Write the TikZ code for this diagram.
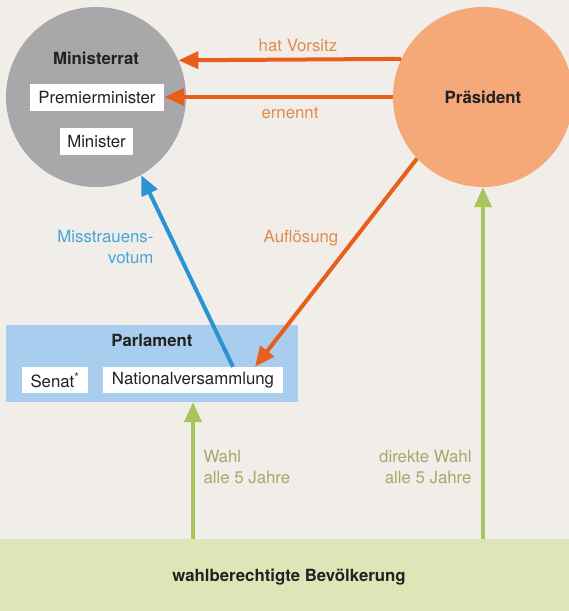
\documentclass[tikz,border=0pt]{standalone}
\usepackage{fontspec}
\setmainfont{TeX Gyre Heros}
\usepackage{tikz}
\usetikzlibrary{arrows.meta,positioning,calc}
\usepackage{xcolor}
\definecolor{paper}{RGB}{241,238,233}
\definecolor{ratgrey}{RGB}{168,167,169}
\definecolor{praespeach}{RGB}{245,168,120}
\definecolor{hotorange}{RGB}{232,95,28}
\definecolor{softorange}{RGB}{227,138,79}
\definecolor{vetoblue}{RGB}{42,147,209}
\definecolor{labelblue}{RGB}{69,165,218}
\definecolor{parlblue}{RGB}{169,205,239}
\definecolor{votegreen}{RGB}{169,196,90}
\definecolor{labelolive}{RGB}{165,168,106}
\definecolor{folkgreen}{RGB}{221,230,182}
\definecolor{inkdark}{RGB}{34,34,34}
\newcommand{\txt}{\fontsize{16.8}{21}\selectfont}

\begin{document}
\begin{tikzpicture}[x=1pt,y=-1pt,
    every node/.style={font=\txt, text=inkdark},
    whitebox/.style={fill=white, minimum height=27pt, inner sep=0pt},
    body/.style={circle, minimum size=180pt, inner sep=0pt},
    link/.style={line width=4pt, -{Triangle[length=20pt,width=17pt]}}]
    \useasboundingbox (0,0) rectangle (569,611);
    \fill[paper] (0,0) rectangle (569,611);

    % --- Ministerrat ---
    \node[body, fill=ratgrey] (minrat) at (96,97) {};
    \node[font=\txt\bfseries] (minlabel) at (96,58) {Ministerrat};
    \node[whitebox, minimum width=134pt] (premier) at (97,97) {Premierminister};
    \node[whitebox, minimum width=73pt] (minister) at (96.5,141.5) {Minister};

    % --- Praesident ---
    \node[body, fill=praespeach, font=\txt\bfseries] (praes) at (483,97) {Präsident};

    % --- Parlament ---
    \node[fill=parlblue, minimum width=292pt, minimum height=77pt, inner sep=0pt] (parl) at (152,363.5) {};
    \node[font=\txt\bfseries] (parllabel) at (152,340) {Parlament};
    \node[whitebox, minimum width=66pt, minimum height=26pt] (senat) at (55,380) {Senat\textsuperscript{*}};
    \node[whitebox, minimum width=180pt, minimum height=26pt] (nv) at (193,380) {Nationalversammlung};

    % --- Bevoelkerung ---
    \node[fill=folkgreen, minimum width=569pt, minimum height=72pt, inner sep=0pt] (folk) at (284.5,575) {};
    \node[font=\txt\bfseries] (folklabel) at (289,577) {wahlberechtigte Bevölkerung};

    % orange arrows from the president
    \draw[link, hotorange] (praes.155.7) -- (minrat.24.3);
    \node[text=softorange] (vorsitz) at (298,45) {hat Vorsitz};
    \draw[link, hotorange] (praes.west) -- (premier.east);
    \node[text=softorange] (ernennt) at (290,113) {ernennt};
    \draw[link, hotorange] (praes.223) -- ([xshift=62pt]nv.north);
    \node[text=softorange] (aufl) at (301,238) {Auflösung};

    % vote of no confidence
    \draw[link, vetoblue] ([xshift=40pt]nv.north) -- (minrat.300);
    \node[text=labelblue, align=right, anchor=east] (misstr) at (157,247) {Misstrauens-\\votum};

    % elections
    \draw[link, votegreen] (nv |- folk.north) -- (nv |- parl.south);
    \draw[link, votegreen] (praes |- folk.north) -- (praes.south);
    \node[text=labelolive, align=left, anchor=west] (wahl) at (200,467) {Wahl\\alle 5 Jahre};
    \node[text=labelolive, align=right, anchor=east] (direkt) at (475,467) {direkte Wahl\\alle 5 Jahre};
\end{tikzpicture}
\end{document}
